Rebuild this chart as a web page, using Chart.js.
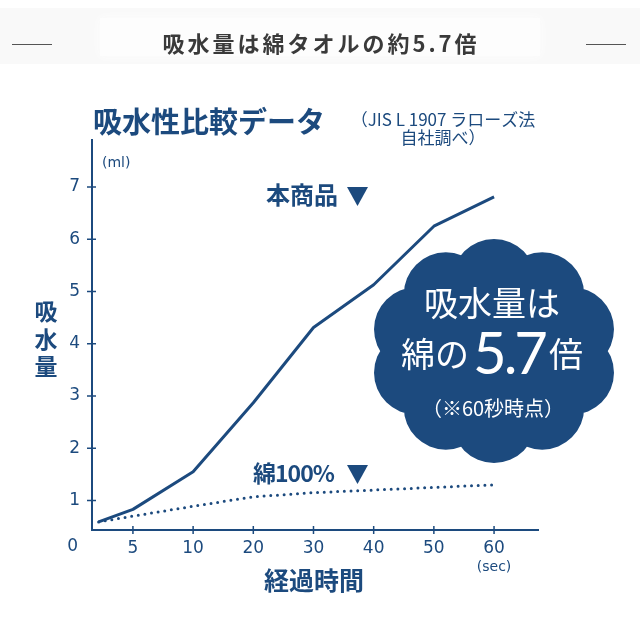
<!DOCTYPE html>
<html lang="ja">
<head>
<meta charset="utf-8">
<title>吸水性比較データ</title>
<script src="https://cdn.jsdelivr.net/npm/chart.js@4.4.0/dist/chart.umd.min.js"></script>
<style>
  html, body { margin: 0; padding: 0; background: #ffffff; }
  #wrap { width: 640px; height: 640px; }
</style>
</head>
<body>
<div id="wrap"><canvas id="absorbChart" width="640" height="640"></canvas></div>
<script>
// 経過時間（x軸の目盛り）
const timeLabels = ["0", "5", "10", "20", "30", "40", "50", "60"];
// 各計測点が入る目盛りの位置（最初の点は0と5の間）
const samplePositions = [0.43, 1, 2, 3, 4, 5, 6, 7];
// 吸水量 (ml)
const productValues = [0.59, 0.83, 1.55, 2.87, 4.31, 5.13, 6.25, 6.81];
const cottonValues = [0.59, 0.70, 0.89, 1.07, 1.15, 1.20, 1.25, 1.30];
const yTickValues = [1, 2, 3, 4, 5, 6, 7];

const NAVY = "#1c4a7e";
const JP = '"Noto Sans CJK JP", "Noto Sans", sans-serif';
const NUM = '"DejaVu Sans", sans-serif';

function toPoints(values) {
  return samplePositions.map((x, i) => ({ x: x, y: values[i] }));
}

// 雲型の吹き出し
function drawCloud(ctx, cx, cy) {
  ctx.save();
  ctx.fillStyle = NAVY;
  ctx.beginPath();
  for (let i = 0; i < 10; i++) {
    const a = -Math.PI / 2 + (i * Math.PI) / 5;
    const px = cx + 82 * Math.cos(a);
    const py = cy + 70 * Math.sin(a);
    ctx.moveTo(px + 42, py);
    ctx.arc(px, py, 42, 0, Math.PI * 2);
  }
  ctx.moveTo(cx + 95, cy);
  ctx.ellipse(cx, cy, 95, 85, 0, 0, Math.PI * 2);
  ctx.fill();

  ctx.fillStyle = "#ffffff";
  ctx.textAlign = "center";
  ctx.textBaseline = "middle";
  ctx.font = "400 34px " + JP;
  ctx.fillText("吸水量は", cx - 2, cy - 48);

  // 綿の5.7倍
  const small = "400 34px " + JP;
  const big = '400 58px Lato, "Noto Sans", sans-serif';
  ctx.textAlign = "left";
  ctx.textBaseline = "alphabetic";
  ctx.font = small;
  const w1 = ctx.measureText("綿の").width;
  const w3 = ctx.measureText("倍").width;
  ctx.font = big;
  ctx.letterSpacing = "-3px";
  const w2 = ctx.measureText("5.7").width;
  const gap = 4;
  let x = cx - 2 - (w1 + w2 + w3 + gap * 2) / 2;
  ctx.font = small;
  ctx.letterSpacing = "0px";
  ctx.fillText("綿の", x, cy + 16);
  x += w1 + gap;
  ctx.font = big;
  ctx.letterSpacing = "-3px";
  ctx.fillText("5.7", x, cy + 23);
  x += w2 + gap;
  ctx.font = small;
  ctx.letterSpacing = "0px";
  ctx.fillText("倍", x, cy + 16);

  ctx.textAlign = "center";
  ctx.textBaseline = "middle";
  ctx.font = "400 20px " + JP;
  ctx.fillText("（※60秒時点）", cx - 1, cy + 57);
  ctx.restore();
}

function drawTriangle(ctx, left, top) {
  ctx.beginPath();
  ctx.moveTo(left, top);
  ctx.lineTo(left + 21, top);
  ctx.lineTo(left + 10.5, top + 19);
  ctx.closePath();
  ctx.fill();
}

// 背景の帯と見出し
const backgroundPlugin = {
  id: "backgroundPlugin",
  beforeDraw(chart) {
    const ctx = chart.ctx;
    ctx.save();
    ctx.fillStyle = "#ffffff";
    ctx.fillRect(0, 0, chart.width, chart.height);
    ctx.fillStyle = "#f9f9f9";
    ctx.fillRect(0, 8, chart.width, 56);
    ctx.fillStyle = "#fdfdfd";
    ctx.shadowColor = "#fdfdfd";
    ctx.shadowBlur = 10;
    ctx.fillRect(100, 18, 440, 38);
    ctx.restore();
  },
};

// 文字・目盛り線・吹き出し
const annotationPlugin = {
  id: "annotationPlugin",
  afterDraw(chart) {
    const ctx = chart.ctx;
    const xs = chart.scales.x;
    const ys = chart.scales.y;
    ctx.save();

    // 見出し
    ctx.strokeStyle = "#555555";
    ctx.lineWidth = 1;
    ctx.beginPath();
    ctx.moveTo(12, 44.5);
    ctx.lineTo(52, 44.5);
    ctx.moveTo(586, 44.5);
    ctx.lineTo(626, 44.5);
    ctx.stroke();
    ctx.fillStyle = "#3a3a3a";
    ctx.font = "700 22px " + JP;
    ctx.letterSpacing = "3px";
    ctx.textAlign = "center";
    ctx.textBaseline = "middle";
    ctx.fillText("吸水量は綿タオルの約5.7倍", 321, 44);
    ctx.letterSpacing = "0px";

    ctx.fillStyle = NAVY;
    ctx.strokeStyle = NAVY;

    // タイトル
    ctx.textAlign = "left";
    ctx.font = "700 29px " + JP;
    ctx.fillText("吸水性比較データ", 93, 122);
    ctx.textAlign = "center";
    ctx.font = "400 17px " + JP;
    ctx.fillText("（JIS L 1907 ラローズ法", 443, 120);
    ctx.fillText("自社調べ）", 443, 138);

    // 単位
    ctx.textAlign = "left";
    ctx.font = "400 14px " + NUM;
    ctx.fillText("(ml)", 102, 163);
    ctx.textAlign = "center";
    ctx.fillText("(sec)", xs.getPixelForValue(7), 567);

    // 原点の0
    ctx.font = "400 17px " + NUM;
    ctx.fillText(timeLabels[0], xs.getPixelForValue(0), 547);

    // 軸タイトル
    ctx.font = "700 23px " + JP;
    ctx.fillText("吸", 46, 311);
    ctx.fillText("水", 46, 339);
    ctx.fillText("量", 46, 366);
    ctx.font = "700 25px " + JP;
    ctx.fillText("経過時間", 314, 580);

    // 目盛り線（軸をまたぐ）
    ctx.lineWidth = 1.5;
    ctx.beginPath();
    yTickValues.forEach((v) => {
      const py = ys.getPixelForValue(v);
      ctx.moveTo(87, py);
      ctx.lineTo(96, py);
    });
    for (let i = 1; i < timeLabels.length; i++) {
      const px = xs.getPixelForValue(i);
      ctx.moveTo(px, 526);
      ctx.lineTo(px, 534);
    }
    ctx.stroke();

    // 系列名
    ctx.textAlign = "left";
    ctx.font = "700 24px " + JP;
    ctx.fillText("本商品", 266, 195);
    drawTriangle(ctx, 347, 187);
    ctx.font = "700 23px " + JP;
    ctx.letterSpacing = "-1px";
    ctx.fillText("綿100%", 253, 473);
    ctx.letterSpacing = "0px";
    drawTriangle(ctx, 347, 465);

    ctx.restore();

    drawCloud(ctx, 494, 351);
  },
};

const ctx = document.getElementById("absorbChart").getContext("2d");
new Chart(ctx, {
  type: "line",
  data: {
    datasets: [
      {
        label: "本商品",
        data: toPoints(productValues),
        borderColor: NAVY,
        borderWidth: 3,
        pointRadius: 0,
        tension: 0,
        borderJoinStyle: "round",
      },
      {
        label: "綿100%",
        data: toPoints(cottonValues),
        borderColor: NAVY,
        borderWidth: 3,
        borderDash: [0, 6.7],
        borderCapStyle: "round",
        pointRadius: 0,
        tension: 0,
      },
    ],
  },
  options: {
    responsive: false,
    animation: false,
    layout: { padding: { top: 140, right: 102, left: 0, bottom: 0 } },
    plugins: {
      legend: { display: false },
      tooltip: { enabled: false },
    },
    scales: {
      x: {
        type: "linear",
        min: 0.32,
        max: 7.73,
        grid: { display: false, drawTicks: false },
        border: { display: true, color: NAVY, width: 2 },
        afterBuildTicks: (scale) => {
          scale.ticks = timeLabels.slice(1).map((_, i) => ({ value: i + 1 }));
        },
        afterFit: (scale) => {
          scale.height = 110;
        },
        ticks: {
          color: NAVY,
          padding: 8,
          font: { family: "DejaVu Sans", size: 17 },
          callback: (value) => timeLabels[value],
        },
      },
      y: {
        type: "linear",
        min: 0.435,
        max: 7.9,
        grid: { display: false, drawTicks: false },
        border: { display: true, color: NAVY, width: 2 },
        afterBuildTicks: (scale) => {
          scale.ticks = yTickValues.map((v) => ({ value: v }));
        },
        afterFit: (scale) => {
          scale.width = 92;
        },
        ticks: {
          color: NAVY,
          padding: 12,
          font: { family: "DejaVu Sans", size: 17 },
          callback: (value) => String(value),
        },
      },
    },
  },
  plugins: [backgroundPlugin, annotationPlugin],
});
</script>
</body>
</html>
